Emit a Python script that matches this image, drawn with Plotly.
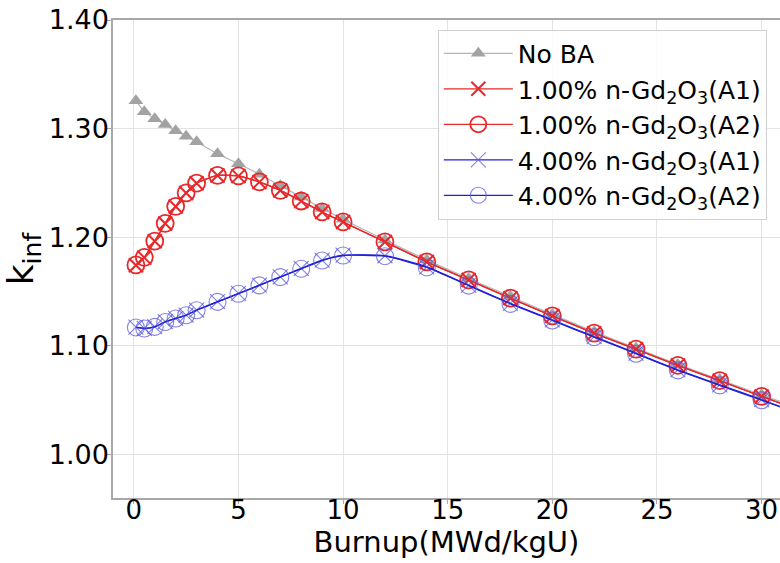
import plotly.graph_objects as go

burnup = [0.1, 0.5, 1, 1.5, 2, 2.5, 3, 4, 5, 6, 7, 8, 9, 10, 12, 14, 16, 18, 20, 22, 24, 26, 28, 30, 32]

k_no_ba = [1.3257, 1.3156, 1.3090, 1.3037, 1.2980, 1.2930, 1.2880, 1.2768, 1.2676, 1.2580,
           1.2475, 1.2370, 1.2265, 1.2165, 1.1975, 1.1790, 1.1620, 1.1455, 1.1290, 1.1130,
           1.0980, 1.0830, 1.0690, 1.0550, 1.0410]

k_gd1_a1 = [1.1743, 1.1813, 1.1963, 1.2126, 1.2284, 1.2407, 1.2498, 1.2569, 1.2563, 1.2508,
            1.2431, 1.2333, 1.2232, 1.2140, 1.1957, 1.1773, 1.1606, 1.1438, 1.1275, 1.1116,
            1.0969, 1.0819, 1.0679, 1.0535, 1.0395]
k_gd1_a2 = [1.1745, 1.1815, 1.1965, 1.2128, 1.2285, 1.2408, 1.2498, 1.2570, 1.2565, 1.2510,
            1.2432, 1.2334, 1.2233, 1.2141, 1.1958, 1.1774, 1.1607, 1.1439, 1.1276, 1.1117,
            1.0970, 1.0820, 1.0680, 1.0536, 1.0396]

k_gd4_a1 = [1.1172, 1.1162, 1.1177, 1.1223, 1.1254, 1.1284, 1.1330, 1.1407, 1.1483, 1.1560,
            1.1636, 1.1713, 1.1789, 1.1835, 1.1830, 1.1728, 1.1560, 1.1392, 1.1239, 1.1085,
            1.0933, 1.0780, 1.0642, 1.0505, 1.0365]
k_gd4_a2 = [1.1170, 1.1160, 1.1175, 1.1220, 1.1252, 1.1282, 1.1328, 1.1405, 1.1480, 1.1557,
            1.1633, 1.1710, 1.1786, 1.1832, 1.1826, 1.1722, 1.1555, 1.1387, 1.1234, 1.1080,
            1.0928, 1.0775, 1.0637, 1.0500, 1.0360]

names = ["No BA",
         "1.00% n-Gd<sub>2</sub>O<sub>3</sub>(A1)",
         "1.00% n-Gd<sub>2</sub>O<sub>3</sub>(A2)",
         "4.00% n-Gd<sub>2</sub>O<sub>3</sub>(A1)",
         "4.00% n-Gd<sub>2</sub>O<sub>3</sub>(A2)"]

x_ticks = [0, 5, 10, 15, 20, 25, 30]
y_ticks = [1.00, 1.10, 1.20, 1.30, 1.40]
y_tick_labels = ["1.00", "1.10", "1.20", "1.30", "1.40"]

FONT = "DejaVu Sans"
fig = go.Figure()

fig.add_trace(go.Scatter(
    x=burnup, y=k_no_ba, name=names[0], mode="lines+markers",
    line=dict(color="#b4b4b4", width=1.2, shape="spline", smoothing=0.5),
    marker=dict(symbol="triangle-up", size=13, color="#a3a3a3", line=dict(width=0))))

fig.add_trace(go.Scatter(
    x=burnup, y=k_gd1_a1, name=names[1], mode="lines+markers",
    line=dict(color="#e8282a", width=1.3, shape="spline", smoothing=0.5),
    marker=dict(symbol="x-thin-open", size=14, color="#e8282a", line=dict(width=2, color="#e8282a"))))

fig.add_trace(go.Scatter(
    x=burnup, y=k_gd1_a2, name=names[2], mode="lines+markers",
    line=dict(color="#e8282a", width=1.3, shape="spline", smoothing=0.5),
    marker=dict(symbol="circle-open", size=17, color="#e8282a", line=dict(width=1.8, color="#e8282a"))))

fig.add_trace(go.Scatter(
    x=burnup, y=k_gd4_a1, name=names[3], mode="lines+markers",
    line=dict(color="#2020d8", width=1.3, shape="spline", smoothing=0.5),
    marker=dict(symbol="x-thin-open", size=15, color="rgba(90,90,220,0.75)",
                line=dict(width=1.1, color="rgba(90,90,220,0.75)"))))

fig.add_trace(go.Scatter(
    x=burnup, y=k_gd4_a2, name=names[4], mode="lines+markers",
    line=dict(color="#2020d8", width=1.3, shape="spline", smoothing=0.5),
    marker=dict(symbol="circle-open", size=17, color="rgba(90,90,220,0.75)",
                line=dict(width=1.1, color="rgba(90,90,220,0.75)"))))

fig.update_layout(
    width=780, height=563,
    margin=dict(l=113, r=0, t=20, b=65),
    paper_bgcolor="white", plot_bgcolor="white",
    font=dict(family=FONT, color="black"),
    showlegend=True,
    legend=dict(
        x=0.487, y=0.98, xanchor="left", yanchor="top",
        bgcolor="rgba(255,255,255,0.85)", bordercolor="#d0d0d0", borderwidth=1,
        font=dict(family=FONT, size=25, color="black"),
        itemwidth=69, tracegroupgap=0),
    xaxis=dict(
        range=[-0.995, 30.88], tickmode="array", tickvals=x_ticks,
        tickfont=dict(family=FONT, size=26), showgrid=True, gridcolor="#e3e3e3", gridwidth=1,
        showline=True, linecolor="#a8a8a8", linewidth=1.5, mirror=True,
        ticks="outside", ticklen=4, tickcolor="#a8a8a8", zeroline=False,
        ticklabelstandoff=-16,
        title=dict(text="Burnup(MWd/kgU)", font=dict(family=FONT, size=29), standoff=4)),
    yaxis=dict(
        range=[0.96, 1.40], tickmode="array", tickvals=y_ticks, ticktext=y_tick_labels,
        tickfont=dict(family=FONT, size=27), showgrid=True, gridcolor="#e3e3e3", gridwidth=1,
        showline=True, linecolor="#a8a8a8", linewidth=1.5, mirror=False,
        ticks="outside", ticklen=4, tickcolor="#a8a8a8", zeroline=False,
        ticklabelstandoff=-7,
        title=dict(text="k<sub>inf</sub>", font=dict(family=FONT, size=36), standoff=8)),
)

fig.write_html("out.html")
